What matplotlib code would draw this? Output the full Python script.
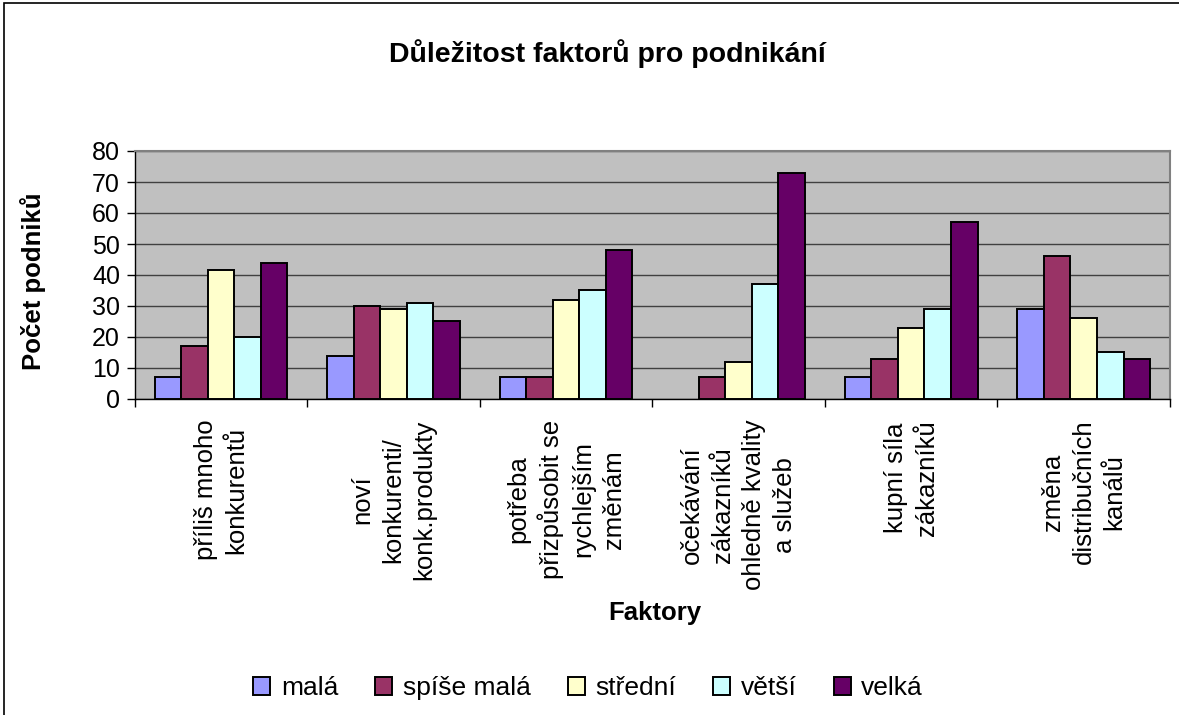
import numpy as np
import matplotlib
matplotlib.use("Agg")
import matplotlib.pyplot as plt
from matplotlib.patches import Rectangle

plt.rcParams["font.family"] = ["Liberation Sans", "DejaVu Sans"]

factors = [
    "příliš mnoho\nkonkurentů",
    "noví\nkonkurenti/\nkonk.produkty",
    "potřeba\npřizpůsobit se\nrychlejším\nzměnám",
    "očekávání\nzákazníků\nohledně kvality\na služeb",
    "kupní síla\nzákazníků",
    "změna\ndistribučních\nkanálů",
]
levels = ["malá", "spíše malá", "střední", "větší", "velká"]
mala = [7, 14, 7, 0, 7, 29]
spise_mala = [17, 30, 7, 7, 13, 46]
stredni = [41.5, 29, 32, 12, 23, 26]
vetsi = [20, 31, 35, 37, 29, 15]
velka = [44, 25, 48, 73, 57, 13]
series = [mala, spise_mala, stredni, vetsi, velka]
colors = ["#9999FF", "#993366", "#FFFFCC", "#CCFFFF", "#660066"]

W, H = 1179, 715
fig = plt.figure(figsize=(W / 100, H / 100), dpi=100)
ax = fig.add_axes([134.7 / W, 1 - 399 / H, (1170 - 134.7) / W, 248 / H])
ax.set_facecolor("#C0C0C0")

x = np.arange(len(factors))
bw = 1 / 6.5
for i, (vals, c, lab) in enumerate(zip(series, colors, levels)):
    # zero-height bars are not drawn at all in the original
    lws = [1.4 if v else 0 for v in vals]
    ax.bar(x + (i - 2) * bw, vals, bw, color=c, edgecolor="black",
           linewidth=lws, label=lab, zorder=3)

ax.set_xlim(-0.5, len(factors) - 0.5)
ax.set_ylim(0, 80)
ax.set_yticks(range(0, 81, 10))
ax.yaxis.grid(True, color="#404040", lw=1.0, zorder=1)
ax.tick_params(axis="y", labelsize=18, length=6, width=1, pad=4.5, direction="out")

ax.set_xticks(np.arange(-0.5, len(factors), 1.0))
ax.set_xticklabels([])
ax.tick_params(axis="x", which="major", length=6, width=1, direction="out")
ax.set_xticks(x, factors, minor=True)
ax.tick_params(axis="x", which="minor", length=0, pad=15, labelsize=18.5,
               labelrotation=90)
for t in ax.get_xticklabels(minor=True):
    t.set_multialignment("center")
    t.set_linespacing(1.36)

for s in ["top", "right"]:
    ax.spines[s].set_color("#808080")
    ax.spines[s].set_linewidth(1.5)
for s in ["left", "bottom"]:
    ax.spines[s].set_color("black")
    ax.spines[s].set_linewidth(1)

fig.text(607 / W, 1 - 61.5 / H, "Důležitost faktorů pro podnikání",
         ha="center", va="baseline", fontsize=20.5, fontweight="bold")
fig.text(33 / W, 1 - 281 / H, "Počet podniků", rotation=90,
         ha="center", va="center", fontsize=18.5, fontweight="bold")
fig.text(655 / W, 1 - 613 / H, "Faktory", ha="center", va="center",
         fontsize=18.5, fontweight="bold")

leg = fig.legend(loc="center", bbox_to_anchor=(588 / W, 1 - 688 / H), ncol=5,
                 frameon=False, fontsize=19, handlelength=0.65, handleheight=0.65,
                 handletextpad=0.4, columnspacing=1.4, borderpad=0)
for h in leg.legend_handles:
    h.set_linewidth(1.4)

fig.patches.append(Rectangle((4 / W, -0.01), 1.01, 1.01 - 3 / H,
                             transform=fig.transFigure, fill=False,
                             edgecolor="black", lw=1.2))

fig.savefig("out.png", dpi=100)
